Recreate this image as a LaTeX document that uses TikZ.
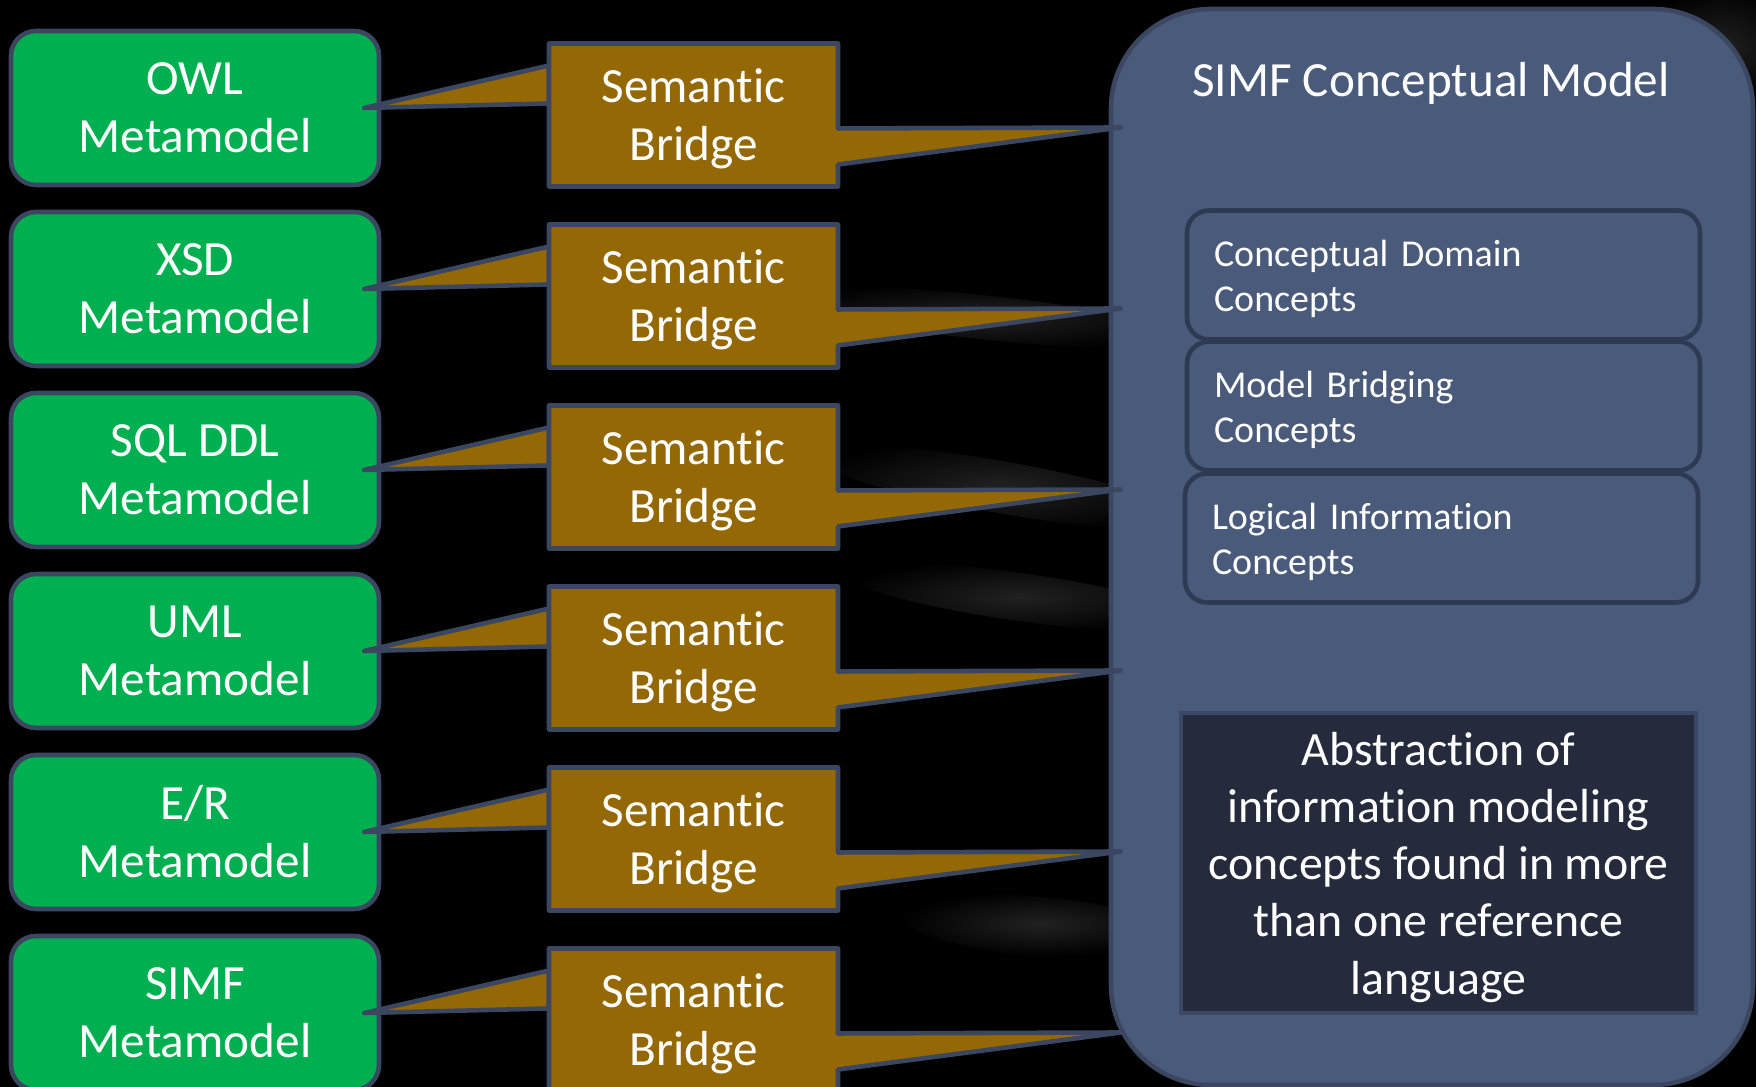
\documentclass[tikz,border=0pt]{standalone}
\usepackage{fontspec}
\setmainfont{Carlito}[Ligatures=NoCommon]
\usetikzlibrary{positioning}
\usetikzlibrary{calc}

\definecolor{metagreen}{RGB}{0,176,80}
\definecolor{bridgebrown}{RGB}{148,105,5}
\definecolor{edgeblue}{RGB}{59,70,97}
\definecolor{modelblue}{RGB}{74,90,123}
\definecolor{conceptedge}{RGB}{46,57,84}
\definecolor{darkfill}{RGB}{37,43,61}
\definecolor{darkedge}{RGB}{58,71,101}

\pgfdeclarelayer{back}
\pgfdeclarelayer{bridges}
\pgfsetlayers{back,bridges,main}

\tikzset{
  meta/.style={draw=edgeblue,line width=1.3pt,fill=metagreen,rounded corners=2.5mm,
    minimum width=36.8mm,minimum height=15.4mm,align=center,text=white,
    font=\fontsize{14}{16.5}\selectfont},
  bridgetext/.style={outer sep=0pt,minimum width=28.9mm,minimum height=14.3mm,text depth=0pt,
    align=center,text=white,font=\fontsize{14}{16.5}\selectfont},
  wedge/.style={draw=edgeblue,line width=1.3pt,fill=bridgebrown,line join=round},
  concept/.style={draw=conceptedge,line width=1.3pt,fill=modelblue,rounded corners=2.2mm,
    minimum height=12.9mm,text width=45.9mm,inner xsep=2.7mm,text depth=12.5pt,align=left,text=white,
    font=\fontsize{10.8}{12.8}\selectfont},
  streak/.style={inner color=white!13!black,outer color=black}
}

\begin{document}
\begin{tikzpicture}[x=1mm,y=1mm]
\useasboundingbox (0,0) rectangle (175.6,108.7);
\begin{pgfonlayer}{back}
%tlo
\fill[black] (0,0) rectangle (175.6,108.7);
\shade[streak,rotate around={-6:(98,77)}] (98,77) ellipse (22 and 2.2);
\shade[streak,rotate around={-10:(100,60)}] (100,60) ellipse (20 and 2.6);
\shade[streak,rotate around={-8:(102,49)}] (102,49) ellipse (18 and 2.4);
\shade[streak,rotate around={-5:(104,16)}] (104,16) ellipse (14 and 3);
\shade[streak] (172,104) ellipse (8 and 6);

%model pojeciowy
\node[draw=edgeblue,line width=1.3pt,fill=modelblue,rounded corners=10mm,
  minimum width=64.2mm,minimum height=107.6mm] (model) at (143.2,54.0) {};
\node[text=white,font=\fontsize{14}{16.5}\selectfont] (title) at (143.1,100.4) {SIMF Conceptual Model};

\node[concept] (domain) at (144.35,81.2) {Conceptual Domain\\Concepts};
\node[concept] (bridging) at (144.35,68.1) {Model Bridging\\Concepts};
\node[concept] (logical) at (144.15,54.9) {Logical Information\\Concepts};

\node[draw=darkedge,line width=1.3pt,fill=darkfill,minimum width=51.5mm,minimum height=30mm,
  text depth=0pt,align=center,text=white,font=\fontsize{13.6}{16.3}\selectfont] (abstraction) at (143.85,22.4)
  {Abstraction of\\information modeling\\concepts found in more\\than one reference\\language};
\end{pgfonlayer}

%metamodele i mosty
\foreach \name [count=\i] in {OWL,XSD,SQL DDL,UML,E/R,SIMF}{
  \pgfmathsetmacro\yy{97.9-18.1*(\i-1)}
  \begin{pgfonlayer}{back}
  \node[meta] (m\i) at (19.5,\yy) {\name\\Metamodel};
  \end{pgfonlayer}
  \node[bridgetext] (b\i) at (69.35,\yy-0.7) {Semantic\\Bridge};
  \begin{pgfonlayer}{bridges}
  \draw[wedge] ($(b\i.north west)+(0,-2.2)$) -- ($(m\i.east)+(-1.7,0)$) -- ($(b\i.north west)+(0,-6.0)$) -- cycle;
  \draw[wedge] (b\i.north west) -- (b\i.north east) -- ($(b\i.north east)+(0,-8.5)$)
    -- ($(model.west |- b\i.north east)+(1.2,-8.4)$) -- ($(b\i.north east)+(0,-12.1)$)
    -- (b\i.south east) -- (b\i.south west) -- cycle;
  \end{pgfonlayer}
}

%end
\end{tikzpicture}
\end{document}
